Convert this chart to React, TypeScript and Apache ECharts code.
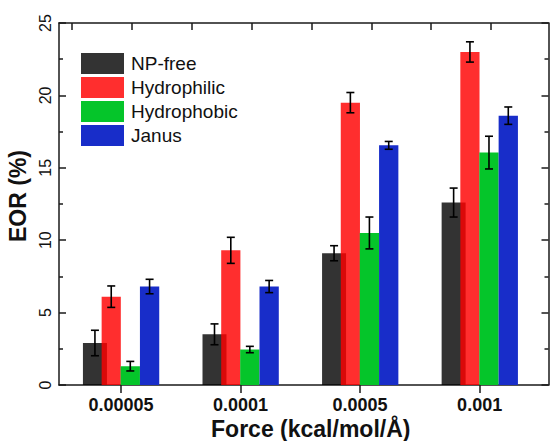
import React, { useEffect, useRef } from "react";
import * as echarts from "echarts";

const categories = ["0.00005", "0.0001", "0.0005", "0.001"];
const seriesNames = ["NP-free", "Hydrophilic", "Hydrophobic", "Janus"];
const npFree = [2.9, 3.5, 9.1, 12.6];
const npFreeErr = [0.88, 0.72, 0.52, 1.0];
const hydrophilic = [6.1, 9.3, 19.5, 23.0];
const hydrophilicErr = [0.74, 0.9, 0.7, 0.7];
const hydrophobic = [1.3, 2.45, 10.5, 16.05];
const hydrophobicErr = [0.33, 0.22, 1.1, 1.13];
const janus = [6.8, 6.8, 16.55, 18.6];
const janusErr = [0.5, 0.42, 0.27, 0.6];
const topTicks = [0.21, 1.21, 2.21, 3.21, 4.21, 5.21, 6.21, 7.21];

// layout (pixel offsets from group center, bar widths)
const barLayout = [
  { off: -38, w: 24, color: "#000000", opacity: 0.8 },
  { off: -19.3, w: 19.2, color: "#ff0000", opacity: 0.82 },
  { off: -0.3, w: 19.3, color: "#05c52a", opacity: 1 },
  { off: 19, w: 19.3, color: "#182dc9", opacity: 1 },
];

const FONT = "'Liberation Sans', Arial, sans-serif";

export default function App() {
  const ref = useRef<HTMLDivElement>(null);
  useEffect(() => {
    if (!ref.current) return;
    const chart = echarts.init(ref.current, undefined, { renderer: "svg" });
    const vals = [npFree, hydrophilic, hydrophobic, janus];
    const errs = [npFreeErr, hydrophilicErr, hydrophobicErr, janusErr];

    const series = seriesNames.map((name, si) => ({
      name,
      type: "custom",
      xAxisIndex: 0,
      yAxisIndex: 0,
      itemStyle: { color: barLayout[si].color, opacity: barLayout[si].opacity },
      z: 2 + si,
      data: categories.map((_, ci) => [ci, vals[si][ci], errs[si][ci]]),
      renderItem: (params: any, api: any) => {
        const x = api.value(0);
        const v = api.value(1);
        const e = api.value(2);
        const base = api.coord([x, 0]);
        const topPt = api.coord([x, v]);
        const L = barLayout[si];
        const left = base[0] + L.off;
        const cx = left + L.w / 2;
        const eTop = api.coord([x, v + e])[1];
        const eBot = api.coord([x, v - e])[1];
        const cap = 4;
        const lineStyle = { stroke: "#000", lineWidth: 1.6, opacity: 1 };
        return {
          type: "group",
          children: [
            {
              type: "rect",
              shape: { x: left, y: topPt[1], width: L.w, height: base[1] - topPt[1] },
              style: { fill: L.color, opacity: L.opacity },
            },
            { type: "line", shape: { x1: cx, y1: eTop, x2: cx, y2: eBot }, style: lineStyle, z2: 10 },
            { type: "line", shape: { x1: cx - cap, y1: eTop, x2: cx + cap, y2: eTop }, style: lineStyle, z2: 10 },
            { type: "line", shape: { x1: cx - cap, y1: eBot, x2: cx + cap, y2: eBot }, style: lineStyle, z2: 10 },
          ],
        };
      },
    }));

    const axisLine = { show: true, onZero: false, lineStyle: { color: "#1a1a1a", width: 1.5 } };

    chart.setOption({
      animation: false,
      backgroundColor: "#ffffff",
      grid: { left: 59, right: 1.5, top: 23, bottom: 56, containLabel: false, outerBoundsMode: "none" },
      legend: {
        left: 81,
        top: 53,
        orient: "vertical",
        icon: "rect",
        itemWidth: 43,
        itemHeight: 21,
        itemGap: 3,
        padding: 0,
        textStyle: { fontFamily: FONT, fontSize: 19, color: "#111", padding: [0, 0, 0, 2] },
        data: seriesNames,
      },
      xAxis: [
        {
          type: "value",
          min: -0.518,
          max: 3.576,
          position: "bottom",
          splitLine: { show: false },
          axisLine,
          axisTick: { show: true, inside: false, length: 8, lineStyle: { color: "#1a1a1a", width: 1.5 }, customValues: [0, 1, 2, 3] },
          axisLabel: {
            customValues: [0, 1, 2, 3],
            formatter: (v: number) => categories[Math.round(v)] ?? "",
            fontFamily: FONT,
            fontWeight: "bold",
            fontSize: 18,
            lineHeight: 18,
            color: "#111",
            margin: 11,
          },
          name: "Force (kcal/mol/Å)",
          nameLocation: "middle",
          nameGap: 32,
          nameMoveOverlap: false,
          nameTextStyle: { fontFamily: FONT, fontWeight: "bold", fontSize: 23, lineHeight: 23, color: "#111", padding: [0, 0, 0, 14] },
        },
        {
          type: "value",
          min: 0,
          max: 8.1667,
          position: "top",
          splitLine: { show: false },
          axisLine,
          axisTick: { show: true, inside: true, length: 7, lineStyle: { color: "#1a1a1a", width: 1.5 }, customValues: topTicks },
          axisLabel: { show: false },
        },
      ],
      yAxis: [
        {
          type: "value",
          min: 0,
          max: 25,
          interval: 5,
          position: "left",
          splitLine: { show: false },
          axisLine,
          axisTick: { show: true, inside: true, length: 7, lineStyle: { color: "#1a1a1a", width: 1.5 } },
          minorTick: { show: true, splitNumber: 2, length: 4, lineStyle: { color: "#1a1a1a", width: 1.5 } },
          axisLabel: { rotate: 90, fontFamily: FONT, fontSize: 16, color: "#111", margin: 6 },
          name: "EOR (%)",
          nameLocation: "middle",
          nameGap: 30,
          nameMoveOverlap: false,
          nameTextStyle: { fontFamily: FONT, fontWeight: "bold", fontSize: 23, color: "#111", padding: [0, 0, 0, 16] },
        },
        {
          type: "value",
          min: 0,
          max: 25,
          interval: 5,
          position: "right",
          splitLine: { show: false },
          axisLine,
          axisTick: { show: true, inside: true, length: 7, lineStyle: { color: "#1a1a1a", width: 1.5 } },
          minorTick: { show: true, splitNumber: 2, length: 4, lineStyle: { color: "#1a1a1a", width: 1.5 } },
          axisLabel: { show: false },
        },
      ],
      series,
    });
    return () => chart.dispose();
  }, []);
  return <div ref={ref} style={{ position: "fixed", left: 0, top: 0, width: 550, height: 441 }} />;
}
